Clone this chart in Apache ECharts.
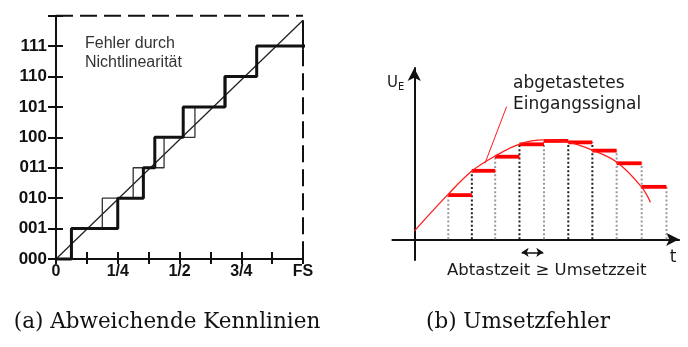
<!DOCTYPE html>
<html><head><meta charset="utf-8">
<script src="https://cdn.jsdelivr.net/npm/echarts@6/dist/echarts.min.js"></script>
<style>html,body{margin:0;padding:0;background:#fff;}#c{width:688px;height:347px;}</style>
</head><body><div id="c"></div>
<script>
// ---------- Panel (a): ADC characteristic ----------
const codeLabels = ['000','001','010','011','100','101','110','111'];
const xTickLabels = ['0','','1/4','','1/2','','3/4','','FS'];
const realSteps  = [[0,0],[0.5,1],[2.0,2],[2.83,3],[3.2,4],[4.12,5],[5.47,6],[6.5,7],[8.5,7]];
const idealSteps = [[0,0],[0.5,1],[1.5,2],[2.5,3],[3.5,4],[4.5,5],[5.5,6],[6.5,7],[8,7]];
const diagonal = [[0,0],[8,7.85]];
const frameTop = [[0,8],[8,8]];
const frameRightSolid = [[8,7.85],[8,6.9]];
const frameRightDashed = [[8,6.9],[8,0]];

// ---------- Panel (b): sampled signal ----------
const sampleTimes = [1.4,2.37,3.33,4.33,5.34,6.34,7.33,8.33,9.36,10.38];
const heldValues  = [1.82,2.82,3.40,3.91,4.05,3.99,3.65,3.13,2.16];
const sampleLineDark = [false,true,false,true,false,true,true,false,false,false];
const signal = [[0,0.34],[1.4,1.86],[2.37,2.81],[3.33,3.43],[4.33,3.92],[5.34,4.09],[6.34,4.0],[7.33,3.67],[8.33,3.18],[9.36,2.15],[9.72,1.53]];
const pointer = [[3.8,5.46],[2.91,3.13]];
const convWindow = [[4.42,-0.535],[5.31,-0.535]];

const heldData = heldValues.map((v,i)=>[sampleTimes[i], sampleTimes[i+1], v]);
const vertData = sampleTimes.map((t,i)=>[t, Math.max(i>0?heldValues[i-1]:0, i<heldValues.length?heldValues[i]:0), sampleLineDark[i]?1:0]);

const chart = echarts.init(document.getElementById('c'), null, {renderer:'canvas'});
const INK = '#111';
const noAxisBits = {axisLine:{show:false}, axisTick:{show:false}, axisLabel:{show:false}, splitLine:{show:false}};
const T = (x,y,text,font,fill,align)=>({type:'text', x:x, y:y, style:{text:text, font:font, fill:fill,
  align:align||'left', verticalAlign:'middle', textAlign:align||'left', textVerticalAlign:'middle'}});

chart.setOption({
  animation:false,
  backgroundColor:'#fff',
  grid:[
    {left:56, top:15.7, width:247, height:243.3, containLabel:false, outerBoundsMode:'none'},
    {left:392.4, top:68, width:286.7, height:192, containLabel:false, outerBoundsMode:'none'}
  ],
  xAxis:[
    {gridIndex:0, type:'value', min:0, max:8, interval:1, position:'bottom',
     axisLine:{show:true, onZero:false, lineStyle:{color:INK, width:2}},
     axisTick:{show:true, inside:false, length:5, lineStyle:{color:INK, width:2}},
     axisLabel:{show:true, margin:5, color:INK, fontFamily:'Liberation Sans', fontWeight:'bold', fontSize:16,
       formatter:v=>xTickLabels[Math.round(v)]||''},
     splitLine:{show:false}},
    {gridIndex:0, type:'value', min:0, max:8, interval:1, position:'bottom',
     axisLine:{show:false, onZero:false},
     axisTick:{show:true, inside:true, length:7, lineStyle:{color:INK, width:2}},
     axisLabel:{show:false}, splitLine:{show:false}},
    Object.assign({gridIndex:1, type:'value', min:-0.9, max:10.9}, noAxisBits,
      {axisLine:{show:true, onZero:true, symbol:['none','arrow'], symbolSize:[10,13], lineStyle:{color:INK, width:2}}})
  ],
  yAxis:[
    {gridIndex:0, type:'value', min:0, max:8, interval:1, position:'left',
     axisLine:{show:true, onZero:false, lineStyle:{color:INK, width:2}},
     axisTick:{show:true, inside:false, length:8, lineStyle:{color:INK, width:2}},
     axisLabel:{show:true, margin:9, color:INK, fontFamily:'Liberation Sans', fontWeight:'bold', fontSize:17,
       formatter:v=>codeLabels[Math.round(v)]||''},
     splitLine:{show:false}},
    {gridIndex:0, type:'value', min:0, max:8, interval:1, position:'left',
     axisLine:{show:false, onZero:false},
     axisTick:{show:true, inside:true, length:7, lineStyle:{color:INK, width:2}},
     axisLabel:{show:false}, splitLine:{show:false}},
    Object.assign({gridIndex:1, type:'value', min:-0.85, max:7.05}, noAxisBits,
      {axisLine:{show:true, onZero:true, symbol:['none','arrow'], symbolSize:[10,13], lineStyle:{color:INK, width:2}}})
  ],
  series:[
    {type:'line', xAxisIndex:0, yAxisIndex:0, data:frameTop, symbol:'none', clip:false,
     lineStyle:{color:INK, width:2, type:[17,7]}},
    {type:'line', xAxisIndex:0, yAxisIndex:0, data:frameRightDashed, symbol:'none', clip:false,
     lineStyle:{color:INK, width:2, type:[17,7]}},
    {type:'line', xAxisIndex:0, yAxisIndex:0, data:frameRightSolid, symbol:'none', clip:false,
     lineStyle:{color:INK, width:2}},
    {type:'line', xAxisIndex:0, yAxisIndex:0, data:diagonal, symbol:'none', clip:false,
     lineStyle:{color:'#222', width:1.3}},
    {type:'line', xAxisIndex:0, yAxisIndex:0, data:idealSteps, step:'end', symbol:'none', clip:false,
     lineStyle:{color:'#333', width:1.3}},
    {type:'line', xAxisIndex:0, yAxisIndex:0, data:realSteps, step:'end', symbol:'none', clip:false,
     lineStyle:{color:INK, width:3}},
    // panel b
    {type:'custom', xAxisIndex:2, yAxisIndex:2, data:vertData, clip:false,
     renderItem:(params, api)=>{
       const p1 = api.coord([api.value(0), 0]);
       const p2 = api.coord([api.value(0), api.value(1)]);
       return {type:'line', shape:{x1:p1[0], y1:p1[1], x2:p2[0], y2:p2[1]},
         style:{stroke: api.value(2)? '#222':'#9a9a9a', lineWidth:2, lineDash:[2,2.2]}};
     }},
    {type:'line', xAxisIndex:2, yAxisIndex:2, data:signal, smooth:0.35, symbol:'none', clip:false,
     lineStyle:{color:'#ff1a1a', width:1.3}},
    {type:'line', xAxisIndex:2, yAxisIndex:2, data:pointer, symbol:'none', clip:false,
     lineStyle:{color:'#ff1a1a', width:1}},
    {type:'custom', xAxisIndex:2, yAxisIndex:2, data:heldData, clip:false,
     renderItem:(params, api)=>{
       const p1 = api.coord([api.value(0), api.value(2)]);
       const p2 = api.coord([api.value(1), api.value(2)]);
       return {type:'line', shape:{x1:p1[0], y1:p1[1], x2:p2[0], y2:p2[1]},
         style:{stroke:'#ff0000', lineWidth:3.8}};
     }},
    {type:'lines', coordinateSystem:'cartesian2d', xAxisIndex:2, yAxisIndex:2,
     data:[{coords:convWindow}], symbol:['arrow','arrow'], symbolSize:7,
     lineStyle:{color:INK, width:1.5, opacity:1}}
  ],
  graphic:[
    T(85,44,'Fehler durch','16px "Liberation Sans"','#333'),
    T(85,63,'Nichtlinearität','16px "Liberation Sans"','#333'),
    T(513,84,'abgetastetes','17px "DejaVu Sans"','#1a1a1a'),
    T(513,105,'Eingangssignal','17px "DejaVu Sans"','#1a1a1a'),
    T(447,271,'Abtastzeit ≥ Umsetzzeit','16.5px "DejaVu Sans"','#1a1a1a'),
    T(673,258,'t','17px "DejaVu Sans"','#1a1a1a','center'),
    T(387,83,'U','15px "DejaVu Sans"','#1a1a1a'),
    T(398,87,'E','10px "DejaVu Sans"','#1a1a1a'),
    T(167,322,'(a) Abweichende Kennlinien','21.5px "DejaVu Serif"','#111','center'),
    T(518,322,'(b) Umsetzfehler','21.5px "DejaVu Serif"','#111','center')
  ]
});
</script></body></html>
